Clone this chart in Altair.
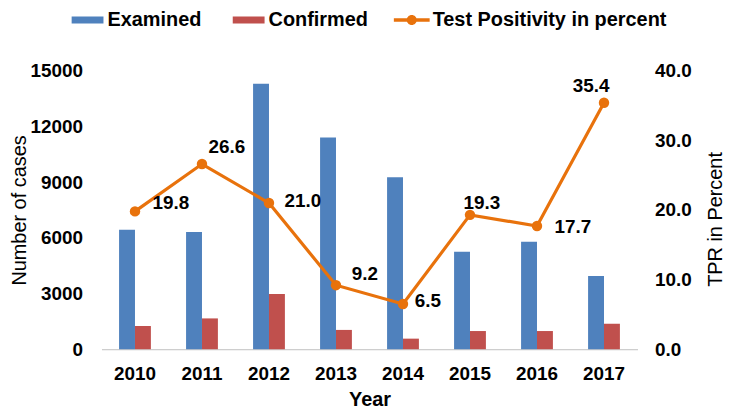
import altair as alt
import pandas as pd

years = ["2010", "2011", "2012", "2013", "2014", "2015", "2016", "2017"]
examined = [6430, 6320, 14300, 11410, 9270, 5250, 5790, 3950]
confirmed = [1250, 1660, 2980, 1040, 570, 980, 980, 1375]
tpr = [19.8, 26.6, 21.0, 9.2, 6.5, 19.3, 17.7, 35.4]

series_names = ["Examined", "Confirmed"]
line_name = "Test Positivity in percent"

BLUE = "#4F81BD"
RED = "#C0504D"
ORANGE = "#E8720C"
FONT = "Liberation Sans"

df = pd.DataFrame({"Year": years, "Examined": examined, "Confirmed": confirmed, "TPR": tpr})

base = alt.Chart(df)

x_enc = alt.X(
    "Year:N",
    sort=years,
    scale=alt.Scale(paddingInner=0.525, paddingOuter=0.2625),
    axis=alt.Axis(
        labelAngle=0, labelFontSize=19, labelFontWeight="bold", labelColor="black",
        labelPadding=15, ticks=False, tickSize=0, domainColor="#BFBFBF", domainWidth=1,
        grid=False, title="Year", titleFontSize=20, titleFontWeight="bold",
        titleColor="black", titlePadding=7,
    ),
)

bar_symbol = "M-1,-0.22H1V0.22H-1Z"
line_symbol = ("M-1,-0.095H1V0.095H-1Z "
               "M-0.28,0A0.28,0.28 0 1,1 0.28,0A0.28,0.28 0 1,1 -0.28,0Z")

bars = base.transform_fold(series_names, as_=["Series", "Cases"]).mark_bar().encode(
    x=x_enc,
    xOffset=alt.XOffset("Series:N", sort=series_names,
                        scale=alt.Scale(domain=series_names, paddingInner=0, paddingOuter=0)),
    y=alt.Y(
        "Cases:Q",
        scale=alt.Scale(domain=[0, 15000], nice=False),
        axis=alt.Axis(
            orient="left", values=[0, 3000, 6000, 9000, 12000, 15000], format="d",
            domain=False, ticks=False, tickSize=0, grid=False,
            labelFontSize=19, labelFontWeight="bold", labelColor="black", labelPadding=19,
            title="Number of cases", titleFontSize=20, titleFontWeight="normal",
            titleColor="black", titleAngle=-90, titleX=-82, titleY=140,
            titleAlign="center", titleBaseline="middle",
        ),
    ),
    color=alt.Color(
        "Series:N",
        scale=alt.Scale(domain=series_names, range=[BLUE, RED]),
        legend=alt.Legend(
            title=None, orient="none", direction="horizontal", legendX=-30, legendY=-67,
            symbolType=bar_symbol, symbolSize=1024, symbolStrokeWidth=0, symbolOpacity=1,
            labelFontSize=20, labelFontWeight="bold", labelColor="black", labelLimit=0,
            labelOffset=4, columnPadding=31, padding=0,
        ),
    ),
)

tpr_scale = alt.Scale(domain=[0, 40], nice=False)

line = base.mark_line(color=ORANGE, strokeWidth=3.2).encode(
    x=alt.X("Year:N", sort=years),
    y=alt.Y(
        "TPR:Q",
        scale=tpr_scale,
        axis=alt.Axis(
            orient="right", values=[0, 10, 20, 30, 40], format=".1f",
            domain=False, ticks=False, tickSize=0, grid=False,
            labelFontSize=19, labelFontWeight="bold", labelColor="black", labelPadding=17,
            title="TPR in Percent", titleFontSize=20, titleFontWeight="normal",
            titleColor="black", titleAngle=-90, titleX=78, titleY=149,
            titleAlign="center", titleBaseline="middle",
        ),
    ),
)

points = base.transform_calculate(Metric=f"'{line_name}'").mark_circle(size=110, opacity=1).encode(
    x=alt.X("Year:N", sort=years),
    y=alt.Y("TPR:Q", scale=tpr_scale, axis=None),
    color=alt.Color(
        "Metric:N",
        scale=alt.Scale(domain=[line_name], range=[ORANGE]),
        legend=alt.Legend(
            title=None, orient="none", direction="horizontal", legendX=294, legendY=-69,
            symbolType=line_symbol, symbolSize=1296, symbolStrokeWidth=0, symbolOpacity=1,
            labelFontSize=20, labelFontWeight="bold", labelColor="black", labelLimit=0,
            labelOffset=3, padding=0,
        ),
    ),
)

# label offsets (style) per year
label_offsets = {
    "2010": (36, -8), "2011": (25, -17), "2012": (34, -2), "2013": (29, -11),
    "2014": (25, -3), "2015": (12, -12), "2016": (36, 1), "2017": (-13, -17),
}

text_layers = []
for yr in years:
    dx, dy = label_offsets[yr]
    text_layers.append(
        base.transform_filter(alt.datum.Year == yr).mark_text(
            dx=dx, dy=dy, fontSize=19, fontWeight="bold", color="black",
            align="center", baseline="middle",
        ).encode(
            x=alt.X("Year:N", sort=years),
            y=alt.Y("TPR:Q", scale=tpr_scale, axis=None),
            text=alt.Text("TPR:Q", format=".1f"),
        )
    )

chart = alt.layer(bars, line, points, *text_layers).resolve_scale(
    y="independent", color="independent"
).properties(
    width=539, height=280,
    autosize=alt.AutoSizeParams(type="none"),
    padding={"left": 94, "top": 62, "right": 90, "bottom": 62},
).configure(font=FONT).configure_view(stroke=None)

chart.save("out.html", embed_options={"renderer": "svg", "actions": False})
